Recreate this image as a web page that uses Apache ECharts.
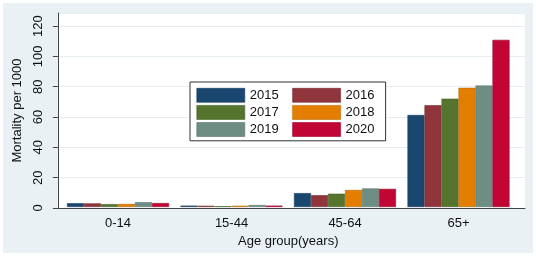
<!DOCTYPE html>
<html>
<head>
<meta charset="utf-8">
<script src="https://cdn.jsdelivr.net/npm/echarts@6/dist/echarts.min.js"></script>
<style>
html,body{margin:0;padding:0;background:#ffffff;}
#wrap{position:absolute;left:0;top:0;width:536px;height:258px;background:#ffffff;}
#chart{position:absolute;left:3px;top:3px;width:530px;height:250px;}
</style>
</head>
<body>
<div id="wrap"><div id="chart"></div></div>
<script>
const categories = ['0-14', '15-44', '45-64', '65+'];
const years = ['2015', '2016', '2017', '2018', '2019', '2020'];
const v2015 = [2.5, 0.9, 9.2, 61.0];
const v2016 = [2.4, 0.8, 7.8, 67.5];
const v2017 = [1.9, 0.5, 8.8, 71.8];
const v2018 = [2.0, 0.8, 11.3, 79.0];
const v2019 = [3.2, 1.3, 12.3, 80.5];
const v2020 = [2.6, 0.9, 12.0, 110.8];
const yMin = 0, yMax = 128.6, yStep = 20;

const values = [v2015, v2016, v2017, v2018, v2019, v2020];
const colors = ['#1a476f', '#90353b', '#55752f', '#e37e00', '#6e8e84', '#c10534'];
const borders = ['#153a5a', '#762b30', '#455f26', '#b86600', '#5a746b', '#9d042a'];
const FONT = '"Liberation Sans", Arial, sans-serif';

const chart = echarts.init(document.getElementById('chart'), null, {renderer: 'canvas'});
chart.setOption({
  backgroundColor: '#e9f1f4',
  animation: false,
  textStyle: {fontFamily: FONT},
  grid: [
    {left: 47.5, right: 8, top: 10, bottom: 45, backgroundColor: '#ffffff', show: true, borderWidth: 0},
    {left: 58.25, right: 17.75, top: 10, bottom: 45}
  ],
  legend: {
    orient: 'vertical',
    left: 187, top: 79,
    height: 56,
    data: ['2015', '2017', '2019', '2016', '2018', '2020'],
    itemWidth: 48, itemHeight: 14, itemGap: 2.5,
    icon: 'rect',
    padding: [6, 0, 4, 6.5],
    backgroundColor: '#ffffff',
    borderColor: '#333333', borderWidth: 1,
    textStyle: {fontSize: 13, color: '#111111', width: 40, lineHeight: 14, fontFamily: FONT},
    itemStyle: {borderWidth: 0.6}
  },
  xAxis: [
    {type: 'category', gridIndex: 0, data: categories, boundaryGap: true,
     axisLine: {show: true, lineStyle: {color: '#444444', width: 1}},
     axisTick: {show: false}, axisLabel: {show: false}, splitLine: {show: false}},
    {type: 'category', gridIndex: 1, data: categories, boundaryGap: true,
     axisLine: {show: false}, axisTick: {show: false},
     axisLabel: {fontSize: 13, color: '#111111', margin: 10, fontFamily: FONT},
     name: 'Age group(years)', nameLocation: 'middle', nameGap: 28,
     nameTextStyle: {fontSize: 13, color: '#111111', fontFamily: FONT}}
  ],
  yAxis: [
    {type: 'value', gridIndex: 0, min: yMin, max: yMax, interval: yStep,
     axisLine: {show: true, lineStyle: {color: '#444444', width: 1}},
     axisTick: {show: true, length: 5, lineStyle: {color: '#444444'}},
     axisLabel: {rotate: 90, fontSize: 13, color: '#111111', margin: 13, showMaxLabel: false, fontFamily: FONT},
     splitLine: {show: true, lineStyle: {color: '#e6eef1', width: 1}},
     name: 'Mortality per 1000', nameLocation: 'middle', nameGap: 19, nameRotate: 90,
     nameTextStyle: {fontSize: 13, color: '#111111', fontFamily: FONT}},
    {type: 'value', gridIndex: 1, min: yMin, max: yMax, interval: yStep, show: false,
     splitLine: {show: false}}
  ],
  series: years.map((y, i) => ({
    name: y, type: 'bar', xAxisIndex: 1, yAxisIndex: 1,
    data: values[i], barWidth: 17, barGap: '0%',
    itemStyle: {color: colors[i], borderColor: borders[i], borderWidth: 0.6}
  }))
});
</script>
</body>
</html>
